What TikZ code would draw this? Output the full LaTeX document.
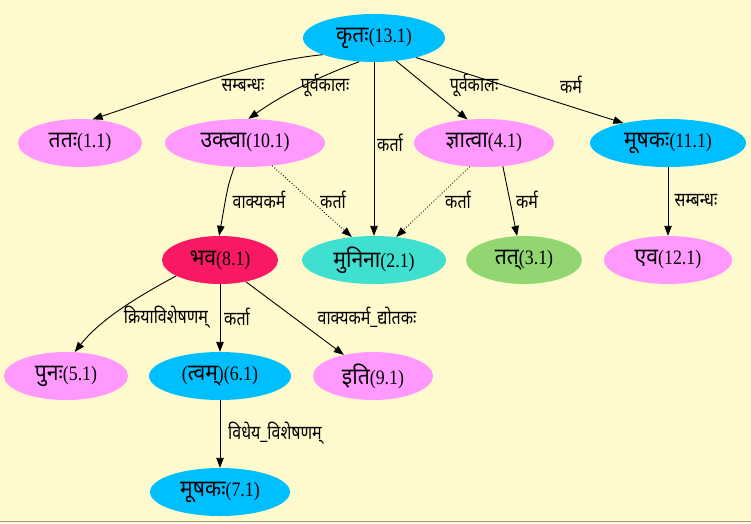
\documentclass[tikz,border=0pt]{standalone}
\usepackage{fontspec}
\setmainfont{Liberation Serif}[FakeStretch=0.87]
\newfontfamily\devN[Script=Devanagari,FakeStretch=0.92]{Noto Sans}
\newfontfamily\devL[Script=Devanagari,FakeStretch=0.82]{Noto Sans}
\usetikzlibrary{shapes.geometric,arrows.meta}
\definecolor{bg}{RGB}{255,250,205}
\definecolor{cblue}{RGB}{0,191,255}
\definecolor{cpink}{RGB}{255,153,255}
\definecolor{cred}{RGB}{248,24,100}
\definecolor{cturq}{RGB}{64,224,208}
\definecolor{cgreen}{RGB}{145,214,112}
\definecolor{cline}{RGB}{160,155,120}
\newcommand{\D}[1]{{\devN\fontsize{23}{24}\selectfont #1}}
\newcommand{\Lb}[1]{{\devL\fontsize{19.5}{22}\selectfont #1}}
\tikzset{
  nd/.style={ellipse,minimum height=48pt,inner sep=0pt,font=\fontsize{20.5}{22}\selectfont},
  lb/.style={inner sep=0pt,font=\fontsize{19.5}{22}\selectfont},
  ed/.style={line width=0.9pt,-{Triangle[length=10pt,width=7.5pt]}},
  dt/.style={ed,dotted}
}
\begin{document}
\begin{tikzpicture}[x=1pt,y=-1pt]
\fill[bg] (0,0) rectangle (751,523);
\useasboundingbox (0,0) rectangle (751,523);
\draw[cline,line width=1.2pt] (0,521.8) -- (751,521.8);
% nodes
\node[nd,fill=cblue,minimum width=142pt] (k) at (374,38) {\D{कृतः}(13.1)};
\node[nd,fill=cpink,minimum width=124pt] (t1) at (80,143) {\D{ततः}(1.1)};
\node[nd,fill=cpink,minimum width=160pt] (u) at (245,143) {\D{उक्त्वा}(10.1)};
\node[nd,fill=cpink,minimum width=140pt] (j) at (484,143) {\D{ज्ञात्वा}(4.1)};
\node[nd,fill=cblue,minimum width=156pt] (mu) at (668,143) {\D{मूषकः}(11.1)};
\node[nd,fill=cred,minimum width=116pt] (b) at (220,260) {\D{भव}(8.1)};
\node[nd,fill=cturq,minimum width=144pt] (m) at (374,260) {\D{मुनिना}(2.1)};
\node[nd,fill=cgreen,minimum width=116pt] (t3) at (524,260) {\D{तत्}(3.1)};
\node[nd,fill=cpink,minimum width=128pt] (e) at (668,260) {\D{एव}(12.1)};
\node[nd,fill=cpink,minimum width=124pt] (p) at (66,376) {\D{पुनः}(5.1)};
\node[nd,fill=cblue,minimum width=142pt] (tv) at (220,376) {(\D{त्वम्})(6.1)};
\node[nd,fill=cpink,minimum width=120pt] (i) at (373,376) {\D{इति}(9.1)};
\node[nd,fill=cblue,minimum width=140pt] (m7) at (220,492) {\D{मूषकः}(7.1)};
% edges
\draw[ed] (k.-162) .. controls (250,62) and (175,92) .. (t1.62);
\draw[ed] (k.-122) .. controls (305,82) and (275,100) .. (u.82);
\draw[ed] (k.south) -- (m.north);
\draw[ed] (k.-46) -- (j.125);
\draw[ed] (k.-25) -- (mu.156);
\draw[ed] (u.-114) .. controls (228,185) .. (b.92);
\draw[dt] (u.-40) -- (m.134);
\draw[dt] (j.-121) -- (m.46);
\draw[ed] (j.-51) -- (t3.106);
\draw[ed] (mu.south) -- (e.north);
\draw[ed] (b.200) .. controls (135,298) and (100,320) .. (p.70);
\draw[ed] (b.south) -- (tv.north);
\draw[ed] (b.-40) -- (i.144);
\draw[ed] (tv.south) -- (m7.north);
% labels
\node[lb] (l1) at (243,85) {\Lb{सम्बन्धः}};
\node[lb] (l2) at (325,85) {\Lb{पूर्वकालः}};
\node[lb] (l3) at (390,143) {\Lb{कर्ता}};
\node[lb] (l4) at (474,85) {\Lb{पूर्वकालः}};
\node[lb] (l5) at (571,85) {\Lb{कर्म}};
\node[lb] (l6) at (259,200) {\Lb{वाक्यकर्म}};
\node[lb] (l7) at (333,200) {\Lb{कर्ता}};
\node[lb] (l8) at (458,200) {\Lb{कर्ता}};
\node[lb] (l9) at (527,200) {\Lb{कर्म}};
\node[lb] (l10) at (696,200) {\Lb{सम्बन्धः}};
\node[lb] (l11) at (166,317) {\Lb{क्रियाविशेषणम्}};
\node[lb] (l12) at (237,317) {\Lb{कर्ता}};
\node[lb] (l13) at (367,317) {\Lb{वाक्यकर्म\_द्योतकः}};
\node[lb] (l14) at (275,433) {\Lb{विधेय\_विशेषणम्}};
\end{tikzpicture}
\end{document}
